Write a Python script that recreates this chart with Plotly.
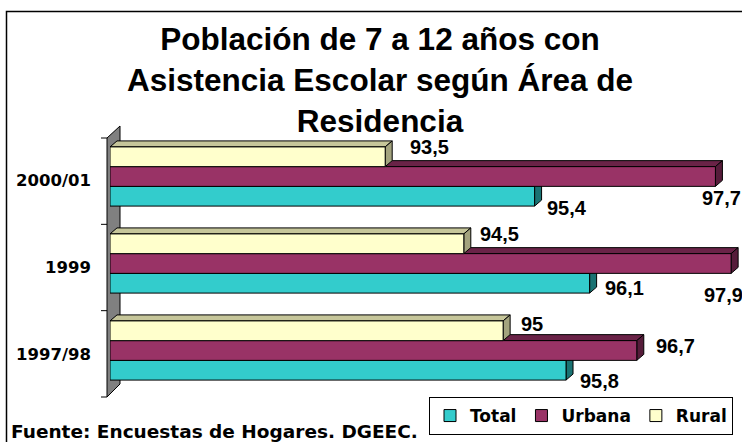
import plotly.graph_objects as go

# ---------------- data ----------------
categories = ["1997/98", "1999", "2000/01"]
series_names = ["Total", "Urbana", "Rural"]
total = [95.8, 96.1, 95.4]
urbana = [96.7, 97.9, 97.7]
rural = [95.0, 94.5, 93.5]
axis_min, axis_max = 90, 98

title_lines = ["Población de 7 a 12 años con", "Asistencia Escolar según Área de", "Residencia"]
source_text = "Fuente: Encuestas de Hogares. DGEEC."

# ---------------- style ----------------
front_colors = ["#33CCCC", "#993366", "#FFFFCC"]
top_colors = ["#1F8C8C", "#6A2347", "#C6C69A"]
side_colors = ["#1A7373", "#561C3A", "#A3A37E"]
# label offsets in px (right of bar end, down from bar centre), per series per category
label_offsets = [
    [(12, 11), (13, 5), (10, 12)],
    [(17, -5), (-29, 31), (-15, 21)],
    [(16, -7), (14, -10), (23, -10)],
]

W, H = 742, 442
L, R, T, B = 110, 3, 133, 48
PW, PH = W - L - R, H - T - B
BARGAP = 0.32
DEPTH_PX = (7, 6)


def px(x):
    return (x - L) / PW


def py(y):
    return (H - B - y) / PH


values = [total, urbana, rural]
ypos = list(range(len(categories)))
nser = len(values)
w = (1 - BARGAP) / nser
dx = DEPTH_PX[0] * (axis_max - axis_min) / PW
dy = DEPTH_PX[1] * len(categories) / PH

fig = go.Figure()
for k, (name, vals) in enumerate(zip(series_names, values)):
    fig.add_trace(go.Bar(
        y=ypos, x=[v - axis_min for v in vals], base=axis_min, orientation="h", name=name,
        marker=dict(color=front_colors[k], line=dict(color="black", width=1)),
        hovertemplate="%{y}: %{customdata}<extra>" + name + "</extra>",
        customdata=vals,
    ))

shapes = []
# outer frame
shapes.append(dict(type="rect", xref="paper", yref="paper", x0=px(6.5), x1=px(800), y0=py(11.5), y1=py(500),
                   line=dict(color="black", width=1.5), fillcolor="rgba(0,0,0,0)", layer="below"))
# side wall
wall = f"M{px(107)},{py(397)} L{px(107)},{py(138)} L{px(120)},{py(126)} L{px(120)},{py(384)} Z"
shapes.append(dict(type="path", xref="paper", yref="paper", path=wall, fillcolor="#808080",
                   line=dict(color="black", width=1), layer="below"))
ncat = len(categories)
for j in range(ncat + 1):
    yy = 138 + j * (397 - 138) / ncat
    shapes.append(dict(type="line", xref="paper", yref="paper", x0=px(101), x1=px(107), y0=py(yy), y1=py(yy),
                       line=dict(color="black", width=1), layer="below"))

# 3D faces of bars
for k, vals in enumerate(values):
    for i, v in enumerate(vals):
        bot = ypos[i] - (1 - BARGAP) / 2 + k * w
        top = bot + w
        top_face = (f"M{axis_min},{top} L{v},{top} L{v + dx},{top + dy} L{axis_min + dx},{top + dy} Z")
        side_face = (f"M{v},{bot} L{v},{top} L{v + dx},{top + dy} L{v + dx},{bot + dy} Z")
        shapes.append(dict(type="path", xref="x", yref="y", path=top_face, fillcolor=top_colors[k],
                           line=dict(color="black", width=1), layer="below"))
        shapes.append(dict(type="path", xref="x", yref="y", path=side_face, fillcolor=side_colors[k],
                           line=dict(color="black", width=1), layer="below"))

annotations = []
for k, vals in enumerate(values):
    for i, v in enumerate(vals):
        centre = ypos[i] - (1 - BARGAP) / 2 + (k + 0.5) * w
        ox, oy = label_offsets[k][i]
        annotations.append(dict(
            x=v, y=centre, xref="x", yref="y", text="<b>" + f"{v:g}".replace(".", ",") + "</b>",
            showarrow=False, xanchor="left", yanchor="middle", xshift=ox, yshift=-oy,
            font=dict(family="Liberation Sans, Arial", size=20, color="black"),
        ))
annotations.append(dict(
    x=px(9), y=py(431), xref="paper", yref="paper", text="<b>" + source_text + "</b>",
    showarrow=False, xanchor="left", yanchor="middle",
    font=dict(family="DejaVu Sans", size=18.5, color="black"),
))

fig.update_layout(
    width=W, height=H,
    margin=dict(l=L, r=R, t=T, b=B, autoexpand=False),
    paper_bgcolor="white", plot_bgcolor="rgba(0,0,0,0)",
    title=dict(text="<br>".join(title_lines), x=380 / W, xanchor="center", xref="container",
               y=1 - 50 / H, yanchor="top", yref="container",
               font=dict(family="Liberation Sans, Arial", size=31.5, color="black", weight="bold")),
    barmode="group", bargap=BARGAP, bargroupgap=0,
    xaxis=dict(range=[axis_min, axis_max], visible=False, showgrid=False, zeroline=False),
    yaxis=dict(range=[-0.5, len(categories) - 0.5], tickvals=ypos, ticktext=categories,
               showgrid=False, zeroline=False, showline=False, ticks="", ticklabelstandoff=18,
               ticklabelshift=4,
               tickfont=dict(family="DejaVu Sans", size=16.5, color="black", weight="bold")),
    legend=dict(orientation="h", x=px(429), y=py(397), xanchor="left", yanchor="top",
                bordercolor="black", borderwidth=1, bgcolor="white", traceorder="normal",
                font=dict(family="DejaVu Sans", size=17, color="black", weight="bold")),
    shapes=shapes, annotations=annotations,
    showlegend=True,
)

fig.write_html("out.html", config={"displayModeBar": False},
               post_script="document.body.style.margin='0';document.body.style.overflow='hidden';")
